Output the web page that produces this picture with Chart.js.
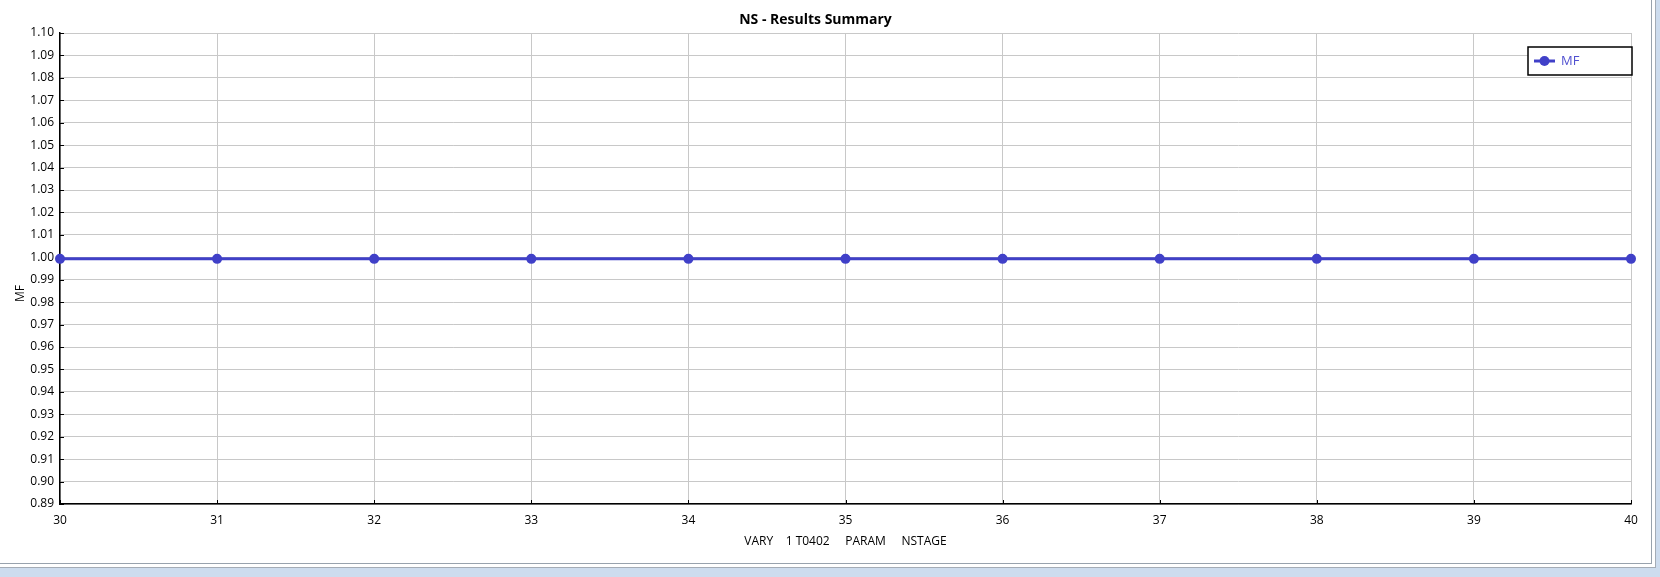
<!DOCTYPE html>
<html>
<head>
<meta charset="utf-8">
<script src="https://cdn.jsdelivr.net/npm/chart.js@4.4.1/dist/chart.umd.min.js"></script>
<style>
  html, body { margin: 0; padding: 0; }
  body { width: 1660px; height: 577px; background: #cddcee; overflow: hidden; }
  .outer { position: absolute; left: 0; top: 0; width: 1655px; height: 567px; background: #fff;
           border-right: 1px solid #a4acb6; border-bottom: 1px solid #a4acb6; }
  .inner { position: absolute; left: 0; top: 0; width: 1651px; height: 563px;
           border-right: 1px solid #98a2ad; border-bottom: 1px solid #98a2ad; }
</style>
</head>
<body>
<div class="outer"><div class="inner"><canvas id="chartNS"></canvas></div></div>
<script>
/* ============================
   NS - Results Summary
   ============================ */

const stages = [30, 31, 32, 33, 34, 35, 36, 37, 38, 39, 40];
const mfValues = [0.9993, 0.9993, 0.9993, 0.9993, 0.9993, 0.9993, 0.9993, 0.9993, 0.9993, 0.9993, 0.9993];
const xTicks = [30, 31, 32, 33, 34, 35, 36, 37, 38, 39, 40];
const yTicks = [0.89, 0.90, 0.91, 0.92, 0.93, 0.94, 0.95, 0.96, 0.97, 0.98, 0.99,
                1.00, 1.01, 1.02, 1.03, 1.04, 1.05, 1.06, 1.07, 1.08, 1.09, 1.10];

const LINE = "#4040c8";
const FONT = "'Open Sans', 'Noto Sans', sans-serif";

// small inner tick marks, y title a bit below centre, boxed legend inside the plot
const frameBits = {
  id: "frameBits",
  beforeDatasetsDraw(chart) {
    const { ctx, chartArea: a, scales } = chart;
    ctx.save();
    ctx.strokeStyle = "#000";
    ctx.lineWidth = 1;
    scales.y.ticks.forEach(t => {
      const y = Math.round(scales.y.getPixelForValue(t.value)) + 0.5;
      ctx.beginPath(); ctx.moveTo(a.left, y); ctx.lineTo(a.left + 4, y); ctx.stroke();
    });
    scales.x.ticks.forEach(t => {
      const x = Math.round(scales.x.getPixelForValue(t.value)) + 0.5;
      ctx.beginPath(); ctx.moveTo(x, a.bottom); ctx.lineTo(x, a.bottom - 4); ctx.stroke();
    });

    // y axis title
    ctx.translate(21, (a.top + a.bottom) / 2 + 25);
    ctx.rotate(-Math.PI / 2);
    ctx.fillStyle = "#000";
    ctx.font = "12px " + FONT;
    ctx.textAlign = "center";
    ctx.textBaseline = "middle";
    ctx.fillText("MF", 0, 0);
    ctx.restore();
  },
  afterDraw(chart) {
    const { ctx, chartArea: a } = chart;
    const ds = chart.data.datasets[0];
    const w = 104, h = 28;
    const x0 = a.right - w + 1, y0 = a.top + 14;
    ctx.save();
    ctx.fillStyle = "#fff";
    ctx.fillRect(x0, y0, w, h);
    ctx.strokeStyle = "#000";
    ctx.lineWidth = 1.5;
    ctx.strokeRect(x0, y0, w, h);
    const cy = y0 + h / 2;
    ctx.strokeStyle = ds.borderColor;
    ctx.lineWidth = 3;
    ctx.beginPath(); ctx.moveTo(x0 + 6, cy); ctx.lineTo(x0 + 27, cy); ctx.stroke();
    ctx.fillStyle = ds.borderColor;
    ctx.beginPath(); ctx.arc(x0 + 16.5, cy, 5, 0, Math.PI * 2); ctx.fill();
    ctx.fillStyle = "#5050d0";
    ctx.font = "13px " + FONT;
    ctx.textBaseline = "middle";
    ctx.fillText(ds.label, x0 + 33, cy + 0.5);
    ctx.restore();
  }
};

new Chart(document.getElementById("chartNS"), {
  type: "line",
  data: {
    datasets: [{
      label: "MF",
      data: stages.map((s, i) => ({ x: s, y: mfValues[i] })),
      borderColor: LINE,
      backgroundColor: LINE,
      borderWidth: 3,
      pointRadius: 3.5,
      pointHoverRadius: 3.5,
      tension: 0,
      clip: false
    }]
  },
  options: {
    responsive: true,
    maintainAspectRatio: false,
    animation: false,
    layout: { padding: { left: 0, right: 20, top: 0, bottom: 0 } },
    plugins: {
      legend: { display: false },
      tooltip: { enabled: false },
      title: {
        display: true,
        text: "NS - Results Summary",
        color: "#000",
        font: { family: FONT, size: 14, weight: "bold", lineHeight: 1.2 },
        padding: { top: 11.6, bottom: 4.6 }
      }
    },
    scales: {
      x: {
        type: "linear",
        min: 30, max: 40,
        afterBuildTicks: axis => { axis.ticks = xTicks.map(v => ({ value: v })); },
        afterFit: axis => { axis.height = 59; },
        ticks: { color: "#000", padding: 9, maxRotation: 0, font: { family: FONT, size: 12 } },
        grid: { color: "#c8c8c8", drawTicks: false },
        border: { color: "#000", width: 1.5 },
        title: {
          display: true,
          text: "VARY    1 T0402     PARAM     NSTAGE",
          color: "#000",
          font: { family: FONT, size: 12, lineHeight: 1.2 },
          padding: { top: 0, bottom: 13.8 }
        }
      },
      y: {
        type: "linear",
        min: 0.89, max: 1.10,
        afterBuildTicks: axis => { axis.ticks = yTicks.map(v => ({ value: v })); },
        afterFit: axis => { axis.width = 60; },
        ticks: {
          color: "#000", padding: 6, font: { family: FONT, size: 12 },
          callback: v => v.toFixed(2)
        },
        grid: { color: "#c8c8c8", drawTicks: false },
        border: { color: "#000", width: 1.5 }
      }
    }
  },
  plugins: [frameBits]
});
</script>
</body>
</html>
